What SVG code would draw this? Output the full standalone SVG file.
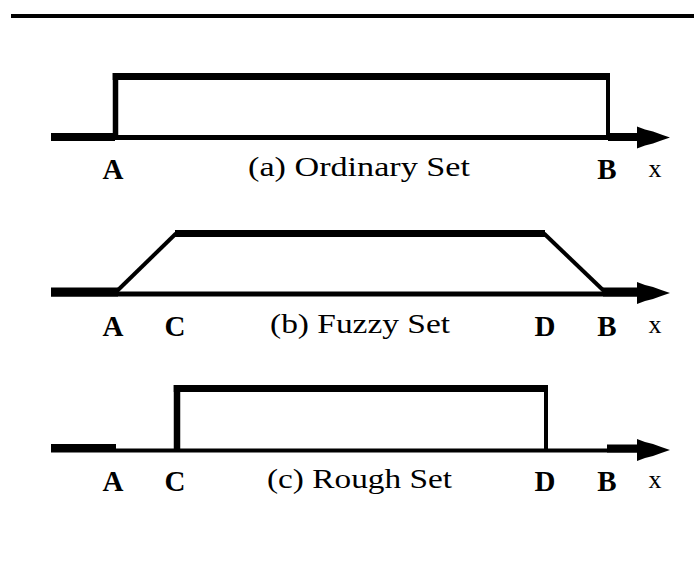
<svg xmlns="http://www.w3.org/2000/svg" width="694" height="582" viewBox="0 0 694 582">
<style>
.ln{stroke:#000;fill:none;stroke-linecap:butt}
.lbl{font-family:"Liberation Serif","DejaVu Serif",serif;font-weight:bold;font-size:29px;fill:#000;text-anchor:middle}
.var{font-family:"Liberation Serif","DejaVu Serif",serif;font-size:26px;fill:#000;text-anchor:middle}
.cap{font-family:"Liberation Serif","DejaVu Serif",serif;font-size:28px;fill:#000}
</style>
<defs>
<path id="ah" d="M0,-11 L8,-8 L16,-6 Q24,-3 33,0 Q24,3 16,6 L8,8 L0,11 Z" fill="#000"/>
</defs>
<rect width="694" height="582" fill="#fff"/>
<line class="ln" x1="11" y1="16" x2="694" y2="16" stroke-width="4"/>

<g id="panel-a">
<line class="ln" x1="51" y1="137.5" x2="645" y2="137.5" stroke-width="5"/>
<line class="ln" x1="51" y1="137" x2="115" y2="137" stroke-width="8"/>
<line class="ln" x1="115.5" y1="140" x2="115.5" y2="73" stroke-width="5.5"/>
<line class="ln" x1="112.7" y1="76.5" x2="610" y2="76.5" stroke-width="7"/>
<line class="ln" x1="608" y1="73" x2="608" y2="138" stroke-width="4"/>
<line class="ln" x1="608" y1="137" x2="645" y2="137" stroke-width="8"/>
<use href="#ah" x="637" y="137.5"/>
<text class="lbl" x="113" y="179">A</text>
<text class="cap" x="248" y="176" textLength="222" lengthAdjust="spacingAndGlyphs">(a) Ordinary Set</text>
<text class="lbl" x="607" y="179">B</text>
<text class="var" x="655" y="177">x</text>
</g>

<g id="panel-b">
<line class="ln" x1="51" y1="294" x2="645" y2="294" stroke-width="5"/>
<line class="ln" x1="51" y1="292" x2="118" y2="292" stroke-width="9"/>
<line class="ln" x1="117" y1="291" x2="176" y2="233.5" stroke-width="4"/>
<line class="ln" x1="175" y1="233.5" x2="545" y2="233.5" stroke-width="7"/>
<line class="ln" x1="544" y1="233.5" x2="604" y2="291" stroke-width="4"/>
<line class="ln" x1="603" y1="292" x2="645" y2="292" stroke-width="9"/>
<use href="#ah" x="637" y="293"/>
<text class="lbl" x="113" y="336">A</text>
<text class="lbl" x="175" y="336">C</text>
<text class="cap" x="270" y="333" textLength="180" lengthAdjust="spacingAndGlyphs">(b) Fuzzy Set</text>
<text class="lbl" x="545" y="336">D</text>
<text class="lbl" x="607" y="336">B</text>
<text class="var" x="655" y="333">x</text>
</g>

<g id="panel-c">
<line class="ln" x1="51" y1="450.5" x2="645" y2="450.5" stroke-width="4"/>
<line class="ln" x1="51" y1="448" x2="116" y2="448" stroke-width="8"/>
<line class="ln" x1="177" y1="451" x2="177" y2="385" stroke-width="6.5"/>
<line class="ln" x1="173.75" y1="388.5" x2="548" y2="388.5" stroke-width="7"/>
<line class="ln" x1="546" y1="385" x2="546" y2="451" stroke-width="4"/>
<line class="ln" x1="607" y1="448.5" x2="645" y2="448.5" stroke-width="8"/>
<use href="#ah" x="637" y="450"/>
<text class="lbl" x="113" y="491">A</text>
<text class="lbl" x="175" y="491">C</text>
<text class="cap" x="267" y="488" textLength="185" lengthAdjust="spacingAndGlyphs">(c) Rough Set</text>
<text class="lbl" x="545" y="491">D</text>
<text class="lbl" x="607" y="491">B</text>
<text class="var" x="655" y="488">x</text>
</g>
</svg>
